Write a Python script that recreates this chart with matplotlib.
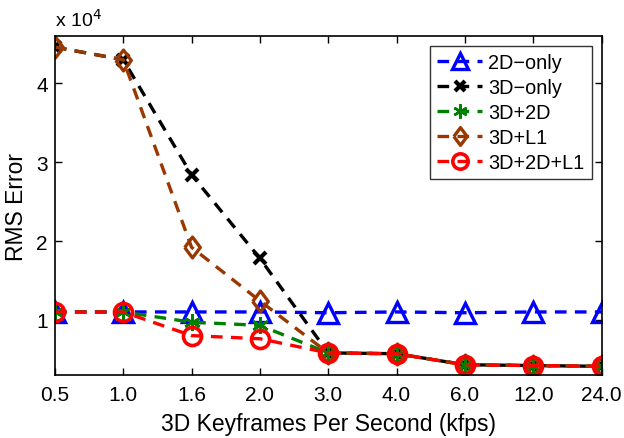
import matplotlib
matplotlib.use("Agg")
import matplotlib.pyplot as plt
import numpy as np

plt.rcParams['font.family'] = ['Liberation Sans', 'DejaVu Sans']

kfps_labels = ['0.5', '1.0', '1.6', '2.0', '3.0', '4.0', '6.0', '12.0', '24.0']

only_2d = [1.10, 1.10, 1.10, 1.10, 1.09, 1.10, 1.09, 1.10, 1.10]
only_3d = [4.46, 4.30, 2.84, 1.78, 0.58, 0.57, 0.43, 0.42, 0.41]
d3_2d = [1.10, 1.10, 0.97, 0.93, 0.58, 0.57, 0.43, 0.42, 0.41]
d3_l1 = [4.46, 4.30, 1.92, 1.24, 0.58, 0.57, 0.43, 0.42, 0.41]
d3_2d_l1 = [1.10, 1.10, 0.80, 0.76, 0.58, 0.57, 0.43, 0.42, 0.41]

# matlab-like tall diamond
diamond = [(-0.75, 0), (0, 1), (0.75, 0), (0, -1), (-0.75, 0)]

series = [
    ('2D\u2212only', only_2d, (0, 0, 1), '^', 14, 2.4),
    ('3D\u2212only', only_3d, (0, 0, 0), 'x', 9, 3.0),
    ('3D+2D', d3_2d, (0, 0.5, 0), (6, 2, 0), 12, 1.8),
    ('3D+L1', d3_l1, (0.6, 0.22, 0), diamond, 15, 2.4),
    ('3D+2D+L1', d3_2d_l1, (1, 0, 0), 'o', 13, 2.6),
]

fig = plt.figure(figsize=(6.24, 4.39), dpi=100)
ax = fig.add_axes([0.088, 0.1435, 0.876, 0.772])

xs = np.arange(len(kfps_labels))
for name, vals, col, mk, ms, mew in series:
    ax.plot(xs, np.array(vals) * 1e4, linestyle='--', dashes=(3.5, 2.5), color=col,
            linewidth=2.4, marker=mk, markersize=ms, markeredgewidth=mew,
            markeredgecolor=col, markerfacecolor='none', label=name)

ax.set_xlim(0, len(kfps_labels) - 1)
ax.set_ylim(0.30e4, 4.6e4)
ax.set_xticks(xs)
ax.set_xticklabels(kfps_labels)
ax.set_yticks([1e4, 2e4, 3e4, 4e4])
ax.set_yticklabels(['1', '2', '3', '4'])
ax.tick_params(direction='in', top=True, right=True, labelsize=15, length=5, width=1)
ax.tick_params(axis='x', pad=7)
ax.tick_params(axis='y', pad=5)
for s in ax.spines.values():
    s.set_linewidth(1.2)

ax.text(0.0, 1.02, 'x 10$^4$', transform=ax.transAxes, fontsize=14, ha='left', va='bottom')
ax.set_xlabel('3D Keyframes Per Second (kfps)', fontsize=16.5, labelpad=6)
ax.set_ylabel('RMS Error', fontsize=16.5, labelpad=6)

leg = ax.legend(loc='upper right', fontsize=14.3, frameon=True, fancybox=False,
                edgecolor='black', handlelength=2.3, handletextpad=0.3,
                borderaxespad=0.5, labelspacing=0.3, borderpad=0.35, markerscale=0.85)
leg.get_frame().set_linewidth(1.0)

fig.savefig('out.png', dpi=100)
